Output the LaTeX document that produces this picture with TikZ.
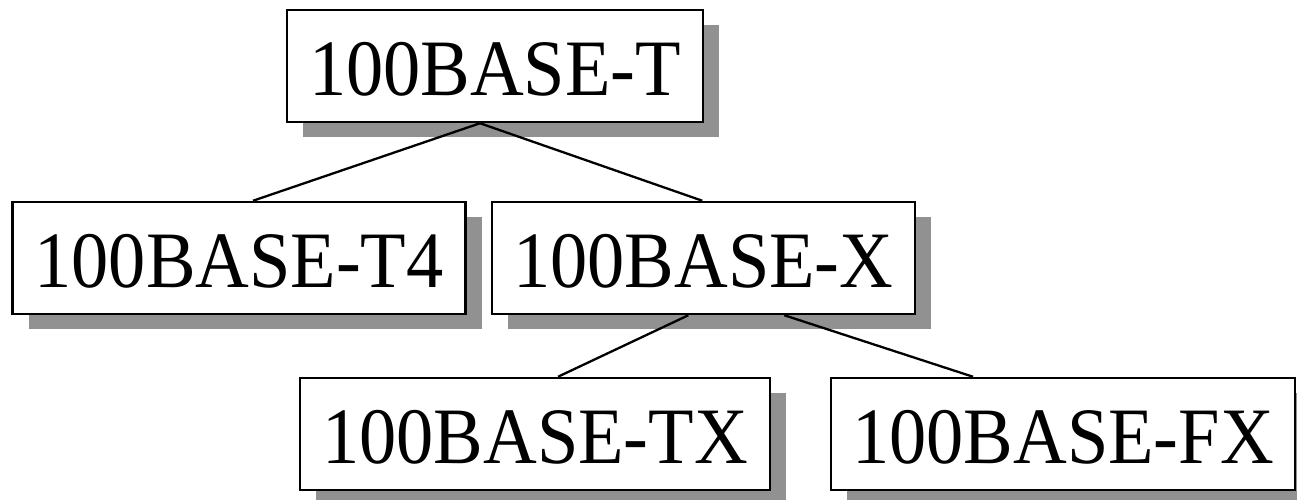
\documentclass[tikz,border=0pt]{standalone}
\usepackage{fontspec}
\usepackage{graphicx}
\setmainfont{Liberation Serif}
\usetikzlibrary{shadows}
\definecolor{shadowgray}{RGB}{145,145,145}
\newcommand{\lbl}[1]{\scalebox{0.93}[1]{#1}}
\tikzset{
  box/.style={draw=black, line width=2.5pt, fill=white, rectangle, inner sep=0pt,
    minimum height=112pt, text height=59pt, text depth=0pt,
    font=\fontsize{80}{96}\selectfont,
    drop shadow={shadow xshift=16pt, shadow yshift=-15pt, fill=shadowgray, opacity=1}},
  link/.style={draw=black, line width=2.3pt}
}
\begin{document}
\begin{tikzpicture}[x=1pt,y=-1pt]
\useasboundingbox (0,0) rectangle (1297,500);
\clip (0,0) rectangle (1297,500);
\node[box, minimum width=416pt] (t)  at (495,66)   {\lbl{100BASE-T}};
\node[box, minimum width=453pt] (t4) at (239,258)  {\lbl{100BASE-T4}};
\node[box, minimum width=423pt] (x)  at (703.3,258) {\lbl{100BASE-X}};
\node[box, minimum width=470pt] (tx) at (535,434)  {\lbl{100BASE-TX}};
\node[box, minimum width=464pt] (fx) at (1063,434) {\lbl{100BASE-FX}};
\draw[link] ([xshift=-15pt]t.south) -- ([xshift=14pt]t4.north);
\draw[link] ([xshift=-15pt]t.south) -- ([xshift=-1pt]x.north);
\draw[link] ([xshift=-15pt]x.south) -- ([xshift=23pt]tx.north);
\draw[link] ([xshift=81pt]x.south) -- ([xshift=-90pt]fx.north);
\end{tikzpicture}
\end{document}
